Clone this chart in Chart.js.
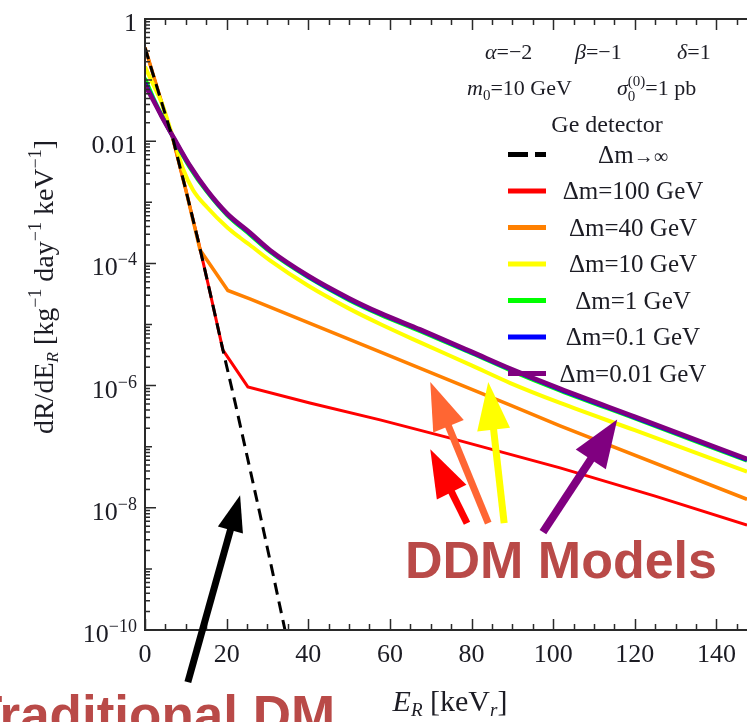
<!DOCTYPE html>
<html>
<head>
<meta charset="utf-8">
<style>
  html, body { margin: 0; padding: 0; background: #fff; }
  #wrap { position: relative; width: 747px; height: 722px; }
</style>
<script src="https://cdn.jsdelivr.net/npm/chart.js@4.4.1/dist/chart.umd.min.js"></script>
</head>
<body>
<div id="wrap"><canvas id="chart" width="747" height="722"></canvas></div>
<script>
  // values (E_R in keV, rate in kg^-1 day^-1 keV^-1)
  const legendLabels = ["Δm→∞", "Δm=100 GeV", "Δm=40 GeV", "Δm=10 GeV", "Δm=1 GeV", "Δm=0.1 GeV", "Δm=0.01 GeV"];

  const blackX = [0, 3, 6.9, 10, 13, 16, 19.1, 22.1, 25, 28, 31, 34.3];
  const blackY = [3.4e-1, 7.4e-2, 1.05e-2, 1.6e-3, 2.4e-4, 3.2e-5, 3.8e-6, 5.2e-7, 7.1e-8, 8.9e-9, 1.07e-9, 1e-10];

  const redX = [0, 3, 6.9, 10, 13, 16, 19.1, 25.2, 40.4, 57.6, 74.8, 101.7, 125, 147.5];
  const redY = [3.4e-1, 7.4e-2, 1.05e-2, 1.6e-3, 2.4e-4, 3.2e-5, 3.8e-6, 9.5e-7, 5.2e-7, 2.75e-7, 1.38e-7, 4.5e-8, 1.55e-8, 5.2e-9];

  const orangeX = [0, 3, 6.9, 10, 13.5, 20.3, 25.7, 57.6, 89.5, 101.7, 147.5];
  const orangeY = [3.4e-1, 7.4e-2, 1.05e-2, 1.6e-3, 1.66e-4, 3.6e-5, 2.63e-5, 3.55e-6, 4.8e-7, 2.2e-7, 1.38e-8];

  const yellowX = [0, 2, 4, 6, 7.8, 9.3, 11.8, 15.2, 20.3, 23.3, 25.7, 30.6, 40, 50, 57.6, 67.4, 80, 89.5, 101.7, 120, 147.5];
  const yellowY = [1.66e-1, 8.5e-2, 4.37e-2, 1.74e-2, 7.4e-3, 3.55e-3, 1.58e-3, 8.3e-4, 3.8e-4, 2.63e-4, 2.0e-4, 1.12e-4, 4.3e-5, 1.82e-5, 1.02e-5, 5.1e-6, 2.14e-6, 1.1e-6, 5.2e-7, 1.86e-7, 3.9e-8];

  const greenX = [0, 2, 4, 7.8, 11, 15.2, 20.1, 25.7, 30.6, 40, 50, 57.6, 67.4, 80, 89.5, 101.7, 120, 147.5];
  const greenY = [1.07e-1, 5.2e-2, 2.75e-2, 8.9e-3, 3.7e-3, 1.48e-3, 6.2e-4, 2.95e-4, 1.55e-4, 5.9e-5, 2.5e-5, 1.45e-5, 7.8e-6, 3.4e-6, 1.78e-6, 8.3e-7, 2.9e-7, 5.9e-8];

  const blueX = [0, 2, 4, 7.8, 11, 15.2, 20.1, 25.7, 30.6, 40, 50, 57.6, 67.4, 80, 89.5, 101.7, 120, 147.5];
  const blueY = [9.1e-2, 4.9e-2, 2.65e-2, 9.1e-3, 3.9e-3, 1.54e-3, 6.4e-4, 3.1e-4, 1.61e-4, 6.1e-5, 2.6e-5, 1.5e-5, 8.1e-6, 3.5e-6, 1.85e-6, 8.6e-7, 3.0e-7, 6.1e-8];

  const purpleX = [0, 2, 4, 7.8, 11, 15.2, 20.1, 25.7, 30.6, 40, 50, 57.6, 67.4, 80, 89.5, 101.7, 120, 147.5];
  const purpleY = [8.3e-2, 4.7e-2, 2.6e-2, 9.3e-3, 4.0e-3, 1.58e-3, 6.6e-4, 3.2e-4, 1.66e-4, 6.3e-5, 2.7e-5, 1.55e-5, 8.3e-6, 3.6e-6, 1.9e-6, 8.9e-7, 3.1e-7, 6.3e-8];

  const xTicks = [0, 20, 40, 60, 80, 100, 120, 140];
  const yTicks = [1, 1e-2, 1e-4, 1e-6, 1e-8, 1e-10];
  const yTickLabels = ["1", "0.01", "10^−4", "10^−6", "10^−8", "10^−10"];

  // arrows: [tailX, tailY, tipX, tipY] in data units
  const arrows = [
    { c: "#000000", p: [10.5, 1.4e-11, 23.3, 1.6e-8], w: 7, hl: 36, hw: 26 },
    { c: "#ff0000", p: [78.9, 5.6e-9, 69.9, 9.1e-8], w: 7, hl: 48, hw: 33 },
    { c: "#ff6633", p: [84.1, 5.6e-9, 69.9, 1.15e-6], w: 7, hl: 48, hw: 33 },
    { c: "#ffff00", p: [88.0, 5.6e-9, 84.1, 1.15e-6], w: 7, hl: 48, hw: 33 },
    { c: "#800080", p: [97.5, 4.0e-9, 115.7, 2.8e-7], w: 8, hl: 48, hw: 36 }
  ];

  const serif = '"Liberation Serif", "DejaVu Serif", serif';
  const sans = '"Liberation Sans", Arial, sans-serif';
  const ink = "#1c1c24";

  function pts(xs, ys) {
    return xs.map((x, i) => ({ x: x, y: ys[i] }));
  }

  function runsWidth(ctx, runs) {
    let w = 0;
    runs.forEach((r) => {
      ctx.font = r.f;
      if (!r.back) w += ctx.measureText(r.t).width;
    });
    return w;
  }

  function drawRuns(ctx, x, y, runs, align) {
    const w = runsWidth(ctx, runs);
    let cx = align === "center" ? x - w / 2 : align === "right" ? x - w : x;
    ctx.textAlign = "left";
    ctx.textBaseline = "alphabetic";
    runs.forEach((r) => {
      ctx.font = r.f;
      ctx.fillText(r.t, cx, y + (r.dy || 0));
      if (!r.back) cx += ctx.measureText(r.t).width;
    });
  }

  function drawArrow(ctx, x1, y1, x2, y2, color, w, hl, hw) {
    const dx = x2 - x1, dy = y2 - y1;
    const len = Math.hypot(dx, dy);
    const ux = dx / len, uy = dy / len;
    const bx = x2 - ux * hl, by = y2 - uy * hl;
    ctx.save();
    ctx.strokeStyle = color;
    ctx.fillStyle = color;
    ctx.lineWidth = w;
    ctx.beginPath();
    ctx.moveTo(x1, y1);
    ctx.lineTo(bx + ux * 2, by + uy * 2);
    ctx.stroke();
    ctx.beginPath();
    ctx.moveTo(x2, y2);
    ctx.lineTo(bx - uy * hw / 2, by + ux * hw / 2);
    ctx.lineTo(bx + uy * hw / 2, by - ux * hw / 2);
    ctx.closePath();
    ctx.fill();
    ctx.restore();
  }

  const decor = {
    id: "decor",
    afterDraw(chart) {
      const { ctx, chartArea: a, scales } = chart;
      const xs = scales.x, ys = scales.y;
      ctx.save();

      // frame
      ctx.strokeStyle = "#2a2a2a";
      ctx.lineWidth = 2;
      ctx.beginPath();
      ctx.moveTo(a.right + 2, a.top);
      ctx.lineTo(a.left, a.top);
      ctx.lineTo(a.left, a.bottom);
      ctx.lineTo(a.right + 2, a.bottom);
      ctx.stroke();

      // x ticks (inward, top and bottom)
      ctx.lineWidth = 1.5;
      ctx.beginPath();
      for (let v = 0; v <= 147; v += 5) {
        const px = Math.round(xs.getPixelForValue(v)) + 0.5;
        const len = v % 20 === 0 ? 11 : 6;
        ctx.moveTo(px, a.bottom);
        ctx.lineTo(px, a.bottom - len);
        ctx.moveTo(px, a.top);
        ctx.lineTo(px, a.top + len);
      }
      // y ticks
      for (let d = -10; d <= 0; d++) {
        const py = ys.getPixelForValue(Math.pow(10, d));
        const len = d % 2 === 0 ? 11 : 7;
        ctx.moveTo(a.left, py);
        ctx.lineTo(a.left + len, py);
        if (d < 0) {
          for (let k = 2; k <= 9; k++) {
            const pm = ys.getPixelForValue(k * Math.pow(10, d));
            ctx.moveTo(a.left, pm);
            ctx.lineTo(a.left + 5, pm);
          }
        }
      }
      ctx.stroke();

      // tick labels
      ctx.fillStyle = ink;
      xTicks.forEach((v) => {
        drawRuns(ctx, xs.getPixelForValue(v), 662, [{ t: String(v), f: `26px ${serif}` }], "center");
      });
      yTicks.forEach((v, i) => {
        const py = ys.getPixelForValue(v) + 12;
        const parts = yTickLabels[i].split("^");
        const runs = [{ t: parts[0], f: `26px ${serif}` }];
        if (parts[1]) runs.push({ t: parts[1], f: `18px ${serif}`, dy: -10 });
        drawRuns(ctx, 137, py, runs, "right");
      });

      // axis titles
      drawRuns(ctx, 450, 711, [
        { t: "E", f: `italic 30px ${serif}` },
        { t: "R", f: `italic 19px ${serif}`, dy: 5 },
        { t: " [keV", f: `30px ${serif}` },
        { t: "r", f: `italic 19px ${serif}`, dy: 5 },
        { t: "]", f: `30px ${serif}` }
      ], "center");

      ctx.save();
      ctx.translate(53, 287);
      ctx.rotate(-Math.PI / 2);
      const f28 = `28px ${serif}`, s18 = `18px ${serif}`;
      drawRuns(ctx, 0, 0, [
        { t: "dR/dE", f: f28 },
        { t: "R", f: `italic 17px ${serif}`, dy: 5 },
        { t: " [kg", f: f28 },
        { t: "−1", f: s18, dy: -12 },
        { t: " day", f: f28 },
        { t: "−1", f: s18, dy: -12 },
        { t: " keV", f: f28 },
        { t: "−1", f: s18, dy: -12 },
        { t: "]", f: f28 }
      ], "center");
      ctx.restore();

      // parameter text
      const it = `italic 22px ${serif}`, rm = `22px ${serif}`, sm = `15px ${serif}`;
      drawRuns(ctx, 485, 59, [{ t: "α", f: it }, { t: "=−2", f: rm }], "left");
      drawRuns(ctx, 575, 59, [{ t: "β", f: it }, { t: "=−1", f: rm }], "left");
      drawRuns(ctx, 677, 59, [{ t: "δ", f: it }, { t: "=1", f: rm }], "left");
      drawRuns(ctx, 467, 95, [{ t: "m", f: it }, { t: "0", f: sm, dy: 5 }, { t: "=10 GeV", f: rm }], "left");
      drawRuns(ctx, 617, 95, [
        { t: "σ", f: it },
        { t: "0", f: sm, dy: 6, back: true },
        { t: "(0)", f: sm, dy: -9 },
        { t: "=1 pb", f: rm }
      ], "left");
      drawRuns(ctx, 607, 132, [{ t: "Ge detector", f: `24px ${serif}` }], "center");

      // legend
      chart.data.datasets.forEach((ds, i) => {
        const y = 154.5 + i * 36.5;
        ctx.save();
        ctx.strokeStyle = ds.borderColor;
        ctx.lineWidth = 5;
        ctx.setLineDash(i === 0 ? [20, 7] : []);
        ctx.beginPath();
        ctx.moveTo(508, y);
        ctx.lineTo(546, y);
        ctx.stroke();
        ctx.restore();
        ctx.fillStyle = ink;
        const lab = ds.label;
        if (lab.indexOf("→") > 0) {
          drawRuns(ctx, 633, y + 8, [{ t: "Δm", f: `25px ${serif}` }, { t: "→∞", f: `20px ${serif}` }], "center");
        } else {
          drawRuns(ctx, 633, y + 8, [{ t: lab, f: `25px ${serif}` }], "center");
        }
      });

      // annotation arrows and captions
      arrows.forEach((ar) => {
        drawArrow(ctx,
          xs.getPixelForValue(ar.p[0]), ys.getPixelForValue(ar.p[1]),
          xs.getPixelForValue(ar.p[2]), ys.getPixelForValue(ar.p[3]),
          ar.c, ar.w, ar.hl, ar.hw);
      });
      ctx.fillStyle = "#b94a48";
      drawRuns(ctx, xs.getPixelForValue(63.7), ys.getPixelForValue(7.1e-10), [{ t: "DDM Models", f: `bold 52px ${sans}` }], "left");
      drawRuns(ctx, xs.getPixelForValue(46.6), ys.getPixelForValue(2.1e-12), [{ t: "Traditional DM", f: `bold 53px ${sans}` }], "right");

      ctx.restore();
    }
  };

  const lineBase = { pointRadius: 0, fill: false };

  new Chart(document.getElementById("chart"), {
    type: "line",
    data: {
      datasets: [
        { ...lineBase, label: legendLabels[0], data: pts(blackX, blackY), borderColor: "#000000", borderWidth: 3, borderDash: [12, 7], tension: 0, order: 0 },
        { ...lineBase, label: legendLabels[1], data: pts(redX, redY), borderColor: "#ff0000", borderWidth: 3, tension: 0, order: 6 },
        { ...lineBase, label: legendLabels[2], data: pts(orangeX, orangeY), borderColor: "#ff8000", borderWidth: 3.5, tension: 0, order: 5 },
        { ...lineBase, label: legendLabels[3], data: pts(yellowX, yellowY), borderColor: "#ffff00", borderWidth: 4, cubicInterpolationMode: "monotone", order: 4 },
        { ...lineBase, label: legendLabels[4], data: pts(greenX, greenY), borderColor: "#00ff00", borderWidth: 4, cubicInterpolationMode: "monotone", order: 3 },
        { ...lineBase, label: legendLabels[5], data: pts(blueX, blueY), borderColor: "#0000ff", borderWidth: 4, cubicInterpolationMode: "monotone", order: 2 },
        { ...lineBase, label: legendLabels[6], data: pts(purpleX, purpleY), borderColor: "#800080", borderWidth: 4.5, cubicInterpolationMode: "monotone", order: 1 }
      ]
    },
    options: {
      responsive: false,
      animation: false,
      layout: { padding: { left: 145, top: 19, right: 0, bottom: 92 } },
      scales: {
        x: { type: "linear", min: 0, max: 147.5, display: false },
        y: { type: "logarithmic", min: 1e-10, max: 1, display: false }
      },
      plugins: {
        legend: { display: false },
        tooltip: { enabled: false }
      }
    },
    plugins: [decor]
  });
</script>
</body>
</html>
